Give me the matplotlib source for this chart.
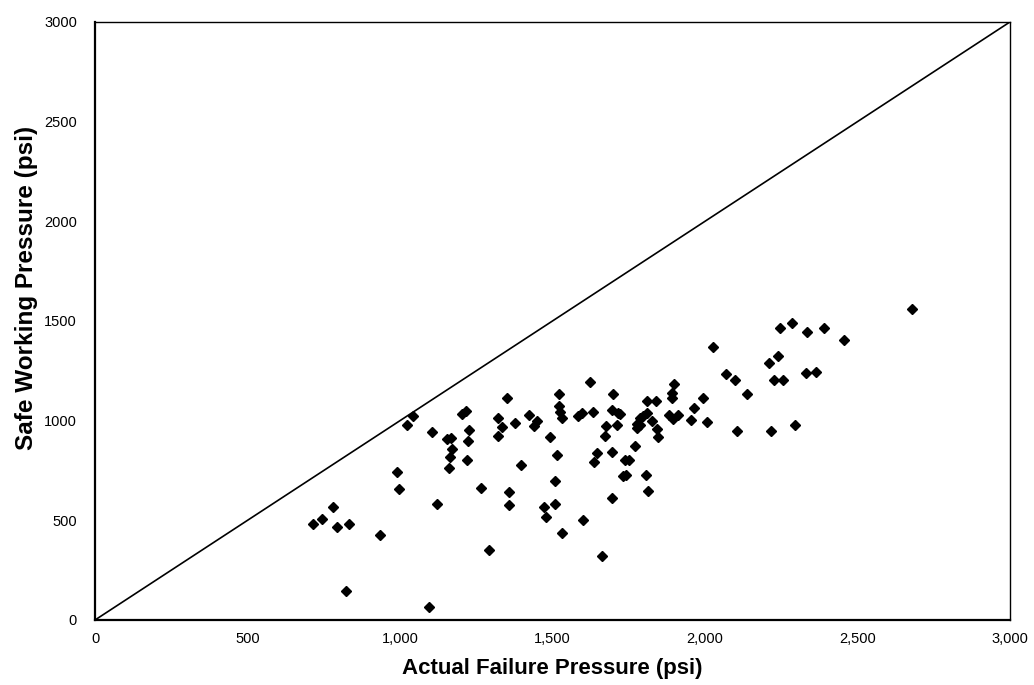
import numpy as np
import matplotlib.pyplot as plt
from matplotlib.ticker import FuncFormatter

plt.rcParams['font.family'] = ['Liberation Sans', 'DejaVu Sans']

# actual failure pressure (psi) vs safe working pressure (psi)
actual_psi = [2678, 2246, 2286, 2336, 2391, 2457, 2238, 2210, 2331, 2363,
              2226, 2257, 2027, 1623, 1898, 2069, 2098, 2295,
              1521, 1699, 2139, 1995, 1893, 1891, 1811, 1839, 1965,
              1521, 1525, 1532, 1596, 1583, 1632, 1694, 1716, 1721,
              1674, 1713, 1787, 1798, 1811, 1776, 1778, 1787, 1825,
              1883, 1896, 1912, 1953, 2006, 2106, 2216, 1841, 1847,
              1492, 1514, 1672, 1647, 1636, 1695, 1770, 1738, 1752,
              1730, 1741, 1807, 1814, 1508, 1472, 1508, 1478, 1694,
              1601, 1530, 1661,
              1350, 1202, 1216, 1044, 1022, 1104, 1153, 1167, 1171,
              1164, 1162, 1227, 1222, 1220, 1322, 1336, 1322, 1377,
              1423, 1450, 1439, 1397, 991, 997, 1267, 1358, 1358,
              1121, 779, 745, 716, 793, 833, 934, 1292, 822, 1095]
safe_psi = [1560, 1463, 1492, 1443, 1465, 1402, 1324, 1287, 1238, 1243,
            1203, 1203, 1369, 1193, 1186, 1232, 1204, 980,
            1134, 1136, 1136, 1114, 1140, 1115, 1098, 1101, 1063,
            1073, 1044, 1011, 1037, 1024, 1045, 1055, 1039, 1033,
            974, 976, 1013, 1025, 1039, 985, 965, 976, 997,
            1026, 1009, 1029, 1004, 995, 949, 947, 956, 920,
            916, 827, 924, 840, 795, 845, 875, 805, 801,
            724, 729, 725, 649, 696, 567, 580, 517, 611,
            501, 437, 321,
            1115, 1033, 1046, 1022, 980, 943, 907, 915, 857,
            818, 764, 953, 896, 802, 1014, 967, 925, 987,
            1030, 998, 972, 779, 742, 656, 664, 644, 577,
            582, 565, 509, 483, 466, 484, 428, 353, 143, 63]

# 1:1 reference line
line_x = [0, 3000]
line_y = [0, 3000]

x_ticks = [0, 500, 1000, 1500, 2000, 2500, 3000]
y_ticks = [0, 500, 1000, 1500, 2000, 2500, 3000]

fig = plt.figure(figsize=(10.34, 6.85), dpi=100)
ax = fig.add_axes([0.0919, 0.0949, 0.8849, 0.8731])

ax.plot(line_x, line_y, color='black', linewidth=1.2)
ax.plot(actual_psi, safe_psi, linestyle='none', marker='D',
        markersize=4.8, color='black')

ax.set_xlim(0, 3000)
ax.set_ylim(0, 3000)
ax.set_xticks(x_ticks)
ax.set_yticks(y_ticks)
ax.xaxis.set_major_formatter(FuncFormatter(lambda v, p: '{:,.0f}'.format(v)))
ax.tick_params(length=0, labelsize=10.5)
ax.tick_params(axis='y', pad=13)
ax.tick_params(axis='x', pad=9)

for s in ax.spines.values():
    s.set_color('black')
    s.set_linewidth(1.0)
ax.spines['left'].set_linewidth(1.6)
ax.spines['bottom'].set_linewidth(1.6)

ax.set_xlabel('Actual Failure Pressure (psi)', fontsize=16,
              fontweight='bold', labelpad=8)
ax.set_ylabel('Safe Working Pressure (psi)', fontsize=17.5,
              fontweight='bold')
# title sits a bit above the middle of the axis in the scan
ax.yaxis.set_label_coords(-0.062, 0.555)

fig.savefig('out.png', dpi=100)
